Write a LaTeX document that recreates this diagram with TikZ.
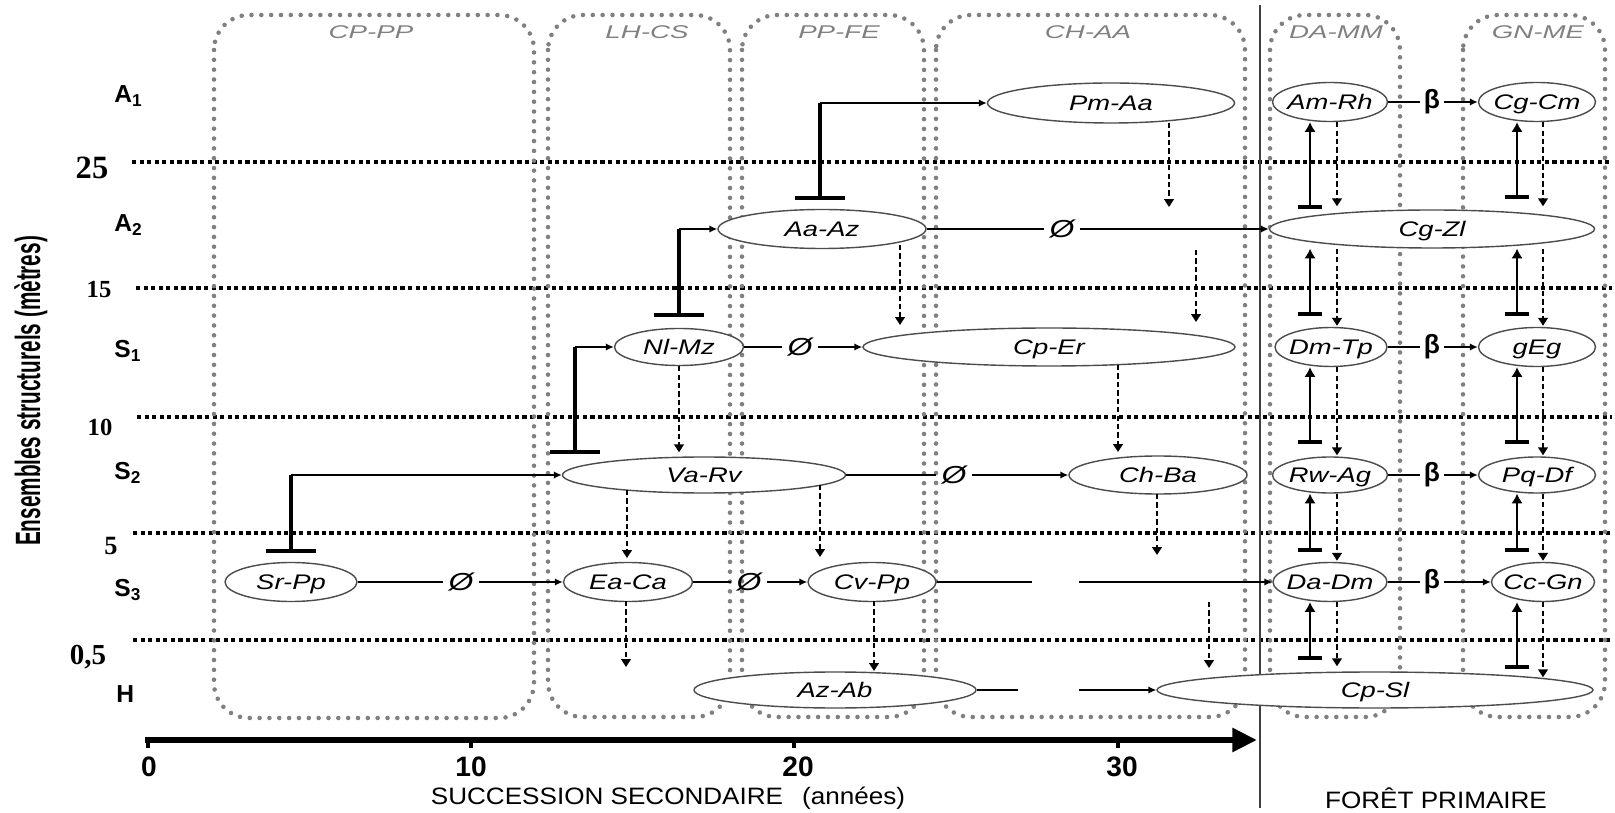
\documentclass[tikz,border=0pt]{standalone}
\usepackage{fontspec}
\usepackage{graphicx}
\setmainfont{Liberation Sans}
\newfontfamily\serifnum{Liberation Serif}
\usetikzlibrary{arrows.meta,calc,shapes.geometric}
\newdimen\pxl
\pxl=0.02cm
\newcommand\sptx[1]{\makebox[0pt]{\scalebox{1.3}[1]{#1}}}
\newcommand\coltx[1]{\scalebox{1.5}[1]{#1}}
\tikzset{
  gridline/.style={line width=1.9pt, dash pattern=on 2.4pt off 1.9pt, black},
  grpbox/.style={draw=black!50, line width=2.6pt, line cap=round, dash pattern=on 0pt off 5.6pt, rounded corners=0.7cm},
  sp/.style={ellipse, draw=black!70, line width=0.8pt, fill=white, inner sep=0pt, text height=8.6pt, text depth=0pt, font=\fontsize{12}{14}\selectfont\itshape},
  collab/.style={text=black!50, inner sep=0pt, font=\fontsize{10.5}{12}\selectfont\itshape},
  rowlab/.style={anchor=base west, inner sep=0pt, font=\fontsize{14}{16}\selectfont\bfseries},
  numlab/.style={inner sep=0pt, font=\serifnum\bfseries},
  ticklab/.style={inner sep=0pt, font=\fontsize{16}{18}\selectfont\bfseries},
  sym/.style={inner sep=3pt, font=\fontsize{14}{16}\selectfont\itshape},
  bet/.style={inner sep=2pt, font=\fontsize{15}{16}\selectfont\bfseries},
  hline/.style={line width=1.1pt, black},
  harr/.style={line width=1.1pt, black, -{Latex[length=4.5pt,width=4.2pt]}},
  inhv/.style={line width=2pt, black, {Bar[width=28pt,line width=2.3pt]}-},
  vinh/.style={line width=1.6pt, black, {Bar[width=14pt,line width=2.3pt]}-{Latex[length=5.5pt,width=6.5pt]}},
  dasharr/.style={line width=1pt, black, dash pattern=on 3pt off 1.8pt, -{Triangle[length=4.5pt,width=5.5pt]}},
}
\begin{document}
\begin{tikzpicture}[x=0.02cm, y=-0.02cm]
\useasboundingbox (0,0) rectangle (1615,813);

% horizontal height lines
\draw[gridline, line width=2.4pt] (132,162) -- (1612,162);
\draw[gridline] (136,288) -- (1612,288);
\draw[gridline] (137,417) -- (1612,417);
\draw[gridline] (133,533) -- (1612,533);
\draw[gridline] (133,640) -- (1612,640);

% group boxes
\draw[grpbox] (214,15) rectangle (534,718);
\draw[grpbox] (548,15) rectangle (730,717);
\draw[grpbox] (742,15) rectangle (924,717);
\draw[grpbox] (936,15) rectangle (1245,717);
\draw[grpbox] (1270,15) rectangle (1400,717);
\draw[grpbox] (1463,15) rectangle (1605,717);

\node[collab] (lCPPP) at (371,32) {\coltx{CP-PP}};
\node[collab] (lLHCS) at (647,32) {\coltx{LH-CS}};
\node[collab] (lPPFE) at (839,32) {\coltx{PP-FE}};
\node[collab] (lCHAA) at (1088,32) {\coltx{CH-AA}};
\node[collab] (lDAMM) at (1336,32) {\coltx{DA-MM}};
\node[collab] (lGNME) at (1538,32) {\coltx{GN-ME}};

% separator
\draw[line width=1.2pt, black!75] (1260,5) -- (1260,808);

% time axis
\coordinate (ax0) at (145,740);
\coordinate (ax1) at (1257,740);
\draw[line width=3.4pt, -{Triangle[length=14pt,width=13pt]}] (ax0) -- (ax1);
\foreach \tx in {148,471,794,1118} \draw[line width=2.6pt] (\tx,740) -- (\tx,748);
\node[ticklab] (t0) at (149,767) {0};
\node[ticklab] (t10) at (471,767) {10};
\node[ticklab] (t20) at (798,767) {20};
\node[ticklab] (t30) at (1122,767) {30};
\node[inner sep=0pt, font=\fontsize{13.5}{15}\selectfont] (xlab) at (668,798) {\scalebox{1.1}[1]{SUCCESSION SECONDAIRE\hspace{0.45em} (années)}};
\node[inner sep=0pt, font=\fontsize{13.5}{15}\selectfont] (fplab) at (1436,798) {\scalebox{1.1}[1]{FORÊT PRIMAIRE}};

% y axis title
\node[rotate=90, inner sep=0pt, font=\fontsize{20}{22}\selectfont\bfseries] (ylab) at (31,391) {\scalebox{0.59}[1]{Ensembles structurels (mètres)}};

% height numbers
\node[numlab] (n25) at (92,168) {\fontsize{18.5}{20}\selectfont 25};
\node[numlab] (n15) at (99,290) {\fontsize{14}{16}\selectfont 15};
\node[numlab] (n10) at (100,427) {\fontsize{14}{16}\selectfont 10};
\node[numlab] (n5) at (111,546) {\fontsize{15}{16}\selectfont 5};
\node[numlab] (n05) at (88,657) {\fontsize{16.5}{18}\selectfont 0,5};

% row labels
\node[rowlab] (rA1) at (114,103) {A\textsubscript{1}};
\node[rowlab] (rA2) at (114,232) {A\textsubscript{2}};
\node[rowlab] (rS1) at (114,358) {S\textsubscript{1}};
\node[rowlab] (rS2) at (114,480) {S\textsubscript{2}};
\node[rowlab] (rS3) at (114,597) {S\textsubscript{3}};
\node[rowlab] (rH) at (116,702) {H};

% species-group nodes
\node[sp, minimum width=247\pxl, minimum height=40\pxl] (PmAa) at (1111,103) {\sptx{Pm-Aa}};
\node[sp, minimum width=115\pxl, minimum height=39\pxl] (AmRh) at (1330,102) {\sptx{Am-Rh}};
\node[sp, minimum width=117\pxl, minimum height=39\pxl] (CgCm) at (1537,102) {\sptx{Cg-Cm}};
\node[sp, minimum width=208\pxl, minimum height=39\pxl] (AaAz) at (822,229) {\sptx{Aa-Az}};
\node[sp, minimum width=325\pxl, minimum height=38\pxl] (CgZl) at (1432,229) {\sptx{Cg-Zl}};
\node[sp, minimum width=129\pxl, minimum height=37\pxl] (NlMz) at (679,347) {\sptx{Nl-Mz}};
\node[sp, minimum width=372\pxl, minimum height=38\pxl] (CpEr) at (1049,347) {\sptx{Cp-Er}};
\node[sp, minimum width=112\pxl, minimum height=39\pxl] (DmTp) at (1331,347) {\sptx{Dm-Tp}};
\node[sp, minimum width=117\pxl, minimum height=39\pxl] (gEg) at (1537,347) {\sptx{gEg}};
\node[sp, minimum width=283\pxl, minimum height=36\pxl] (VaRv) at (704,475) {\sptx{Va-Rv}};
\node[sp, minimum width=178\pxl, minimum height=38\pxl] (ChBa) at (1158,475) {\sptx{Ch-Ba}};
\node[sp, minimum width=115\pxl, minimum height=36\pxl] (RwAg) at (1330,475) {\sptx{Rw-Ag}};
\node[sp, minimum width=117\pxl, minimum height=36\pxl] (PqDf) at (1537,475) {\sptx{Pq-Df}};
\node[sp, minimum width=132\pxl, minimum height=39\pxl] (SrPp) at (291,582) {\sptx{Sr-Pp}};
\node[sp, minimum width=129\pxl, minimum height=39\pxl] (EaCa) at (628,582) {\sptx{Ea-Ca}};
\node[sp, minimum width=128\pxl, minimum height=39\pxl] (CvPp) at (872,582) {\sptx{Cv-Pp}};
\node[sp, minimum width=114\pxl, minimum height=39\pxl] (DaDm) at (1330,582) {\sptx{Da-Dm}};
\node[sp, minimum width=103\pxl, minimum height=39\pxl] (CcGn) at (1543,582) {\sptx{Cc-Gn}};
\node[sp, minimum width=282\pxl, minimum height=36\pxl] (AzAb) at (835,690) {\sptx{Az-Ab}};
\node[sp, minimum width=436\pxl, minimum height=36\pxl] (CpSl) at (1375,690) {\sptx{Cp-Sl}};

% empty-set and beta marks
\node[sym] (o1) at (461,582) {\scalebox{1.3}[1]{\O}};
\node[sym] (o2) at (749,582) {\scalebox{1.3}[1]{\O}};
\node[sym] (o3) at (954,475) {\scalebox{1.3}[1]{\O}};
\node[sym] (o4) at (800,347) {\scalebox{1.3}[1]{\O}};
\node[sym] (o5) at (1062,229) {\scalebox{1.3}[1]{\O}};
\node[bet] (b1) at (1432,102) {β};
\node[bet] (b2) at (1432,347) {β};
\node[bet] (b3) at (1432,475) {β};
\node[bet] (b4) at (1432,582) {β};

% horizontal transitions
\draw[hline] (SrPp) -- (o1); \draw[harr] (o1) -- (EaCa);
\draw[hline] (EaCa) -- (o2); \draw[harr] (o2) -- (CvPp);
\draw[hline] (VaRv) -- (o3); \draw[harr] (o3) -- (ChBa);
\draw[hline] (NlMz) -- (o4); \draw[harr] (o4) -- (CpEr);
\draw[hline] (AaAz) -- (o5); \draw[harr] (o5) -- (CgZl);
\draw[hline] (AmRh) -- (b1); \draw[harr] (b1) -- (CgCm);
\draw[hline] (DmTp) -- (b2); \draw[harr] (b2) -- (gEg);
\draw[hline] (RwAg) -- (b3); \draw[harr] (b3) -- (PqDf);
\draw[hline] (DaDm) -- (b4); \draw[harr] (b4) -- (CcGn);
\coordinate (g1a) at (1032,582); \coordinate (g1b) at (1079,582);
\draw[hline] (CvPp) -- (g1a); \draw[harr] (g1b) -- (DaDm);
\coordinate (g2a) at (1018,690); \coordinate (g2b) at (1079,690);
\draw[hline] (AzAb) -- (g2a); \draw[harr] (g2b) -- (CpSl);

% inhibition / replacement connectors (left)
\coordinate (bSr) at (291,553);
\draw[inhv] (bSr) -- (bSr |- VaRv.west); \draw[harr] (bSr |- VaRv.west) -- (VaRv.west);
\coordinate (bVa) at (575,454);
\draw[inhv] (bVa) -- (bVa |- NlMz.west); \draw[harr] (bVa |- NlMz.west) -- (NlMz.west);
\coordinate (bNl) at (679,317);
\draw[inhv] (bNl) -- (bNl |- AaAz.west); \draw[harr] (bNl |- AaAz.west) -- (AaAz.west);
\coordinate (bAa) at (820,200);
\draw[inhv] (bAa) -- (bAa |- PmAa.west); \draw[harr] (bAa |- PmAa.west) -- (PmAa.west);

% vertical connectors, primary forest
\coordinate (cA) at (1310,0); \coordinate (cB) at (1337,0);
\coordinate (cC) at (1517,0); \coordinate (cD) at (1543,0);
\draw[vinh] (cA |- CgZl.north) -- (cA |- AmRh.south);
\draw[vinh] ($(cA |- DmTp.north)+(0,-11)$) -- (cA |- CgZl.south);
\draw[vinh] ($(cA |- RwAg.north)+(0,-12)$) -- (cA |- DmTp.south);
\draw[vinh] ($(cA |- DaDm.north)+(0,-10)$) -- (cA |- RwAg.south);
\draw[vinh] ($(cA |- CpSl.north)+(0,-11)$) -- (cA |- DaDm.south);
\draw[vinh] ($(cC |- CgZl.north)+(0,-10)$) -- (cC |- CgCm.south);
\draw[vinh] ($(cC |- gEg.north)+(0,-11)$) -- (cC |- CgZl.south);
\draw[vinh] ($(cC |- PqDf.north)+(0,-12)$) -- (cC |- gEg.south);
\draw[vinh] ($(cC |- CcGn.north)+(0,-10)$) -- (cC |- PqDf.south);
\draw[vinh] ($(cC |- CpSl.north)+(0,-2)$) -- (cC |- CcGn.south);

\draw[dasharr] (cB |- AmRh.south) -- ($(cB |- CgZl.north)+(0,-3)$);
\draw[dasharr] (cB |- CgZl.south) -- ($(cB |- DmTp.north)+(0,-1)$);
\draw[dasharr] (cB |- DmTp.south) -- ($(cB |- RwAg.north)+(0,-1)$);
\draw[dasharr] (cB |- RwAg.south) -- ($(cB |- DaDm.north)+(0,-1)$);
\draw[dasharr] (cB |- DaDm.south) -- ($(cB |- CpSl.north)+(0,-5)$);
\draw[dasharr] (cD |- CgCm.south) -- ($(cD |- CgZl.north)+(0,-3)$);
\draw[dasharr] (cD |- CgZl.south) -- ($(cD |- gEg.north)+(0,-1)$);
\draw[dasharr] (cD |- gEg.south) -- ($(cD |- PqDf.north)+(0,-1)$);
\draw[dasharr] (cD |- PqDf.south) -- ($(cD |- CcGn.north)+(0,-1)$);
\draw[dasharr] (cD |- CcGn.south) -- ($(cD |- CpSl.north)+(0,6)$);

% vertical dashed connectors, secondary succession
\coordinate (d1s) at (900,245);  \coordinate (d1e) at (900,325);
\coordinate (d2s) at (1196,250); \coordinate (d2e) at (1196,322);
\coordinate (d3s) at (1169,123); \coordinate (d3e) at (1169,207);
\coordinate (d5s) at (1118,365); \coordinate (d5e) at (1118,452);
\coordinate (d6s) at (627,490);  \coordinate (d6e) at (627,558);
\coordinate (d7s) at (820,485);  \coordinate (d7e) at (820,557);
\coordinate (d8s) at (1157,494); \coordinate (d8e) at (1157,555);
\coordinate (d9s) at (626,601);  \coordinate (d9e) at (626,667);
\coordinate (d10s) at (874,601); \coordinate (d10e) at (874,671);
\coordinate (d11s) at (1209,602); \coordinate (d11e) at (1209,668);
\draw[dasharr] (d1s) -- (d1e);
\draw[dasharr] (d2s) -- (d2e);
\draw[dasharr] (d3s) -- (d3e);
\draw[dasharr] (NlMz.south) -- ($(NlMz.south |- VaRv.north)+(0,-4)$);
\draw[dasharr] (d5s) -- (d5e);
\draw[dasharr] (d6s) -- (d6e);
\draw[dasharr] (d7s) -- (d7e);
\draw[dasharr] (d8s) -- (d8e);
\draw[dasharr] (d9s) -- (d9e);
\draw[dasharr] (d10s) -- (d10e);
\draw[dasharr] (d11s) -- (d11e);
\end{tikzpicture}
\end{document}
